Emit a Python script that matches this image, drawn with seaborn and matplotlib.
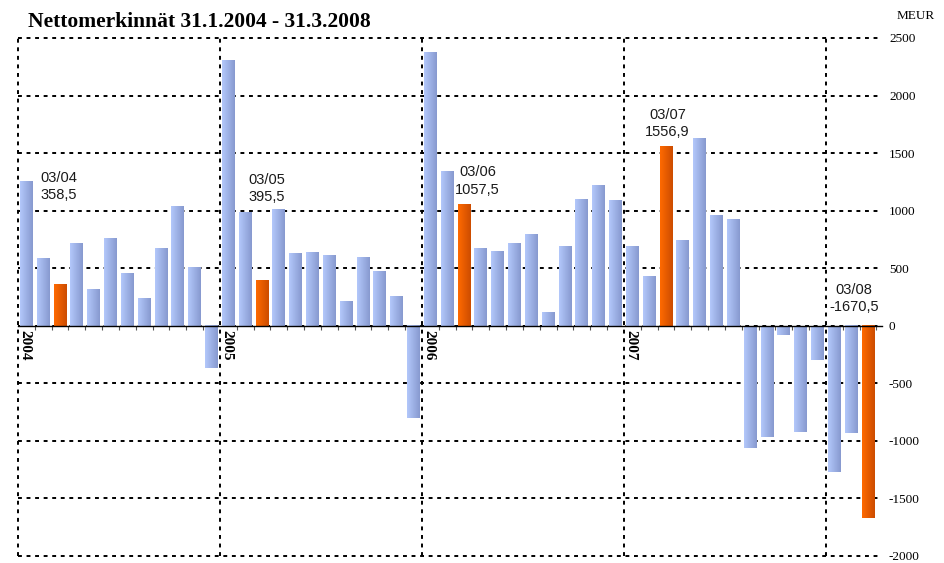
import numpy as np
import pandas as pd
import matplotlib
matplotlib.use("Agg")
import matplotlib.pyplot as plt
from matplotlib.colors import LinearSegmentedColormap
import seaborn as sns

# ---------------- data ----------------
title = "Nettomerkinnät 31.1.2004 - 31.3.2008"
unit_label = "MEUR"
months = list(pd.date_range("2004-01-01", "2008-03-01", freq="MS").strftime("%Y-%m"))
values = [1259, 590, 358.5, 720, 321, 764, 460, 243, 677, 1042, 512, -370,
          2309, 990, 395.5, 1016, 634, 642, 616, 217, 599, 477, 252, -800,
          2378, 1345, 1057.5, 677, 651, 720, 799, 113, 694, 1102, 1224, 1094,
          694, 434, 1556.9, 747, 1632, 964, 929, -1059, -964, -78, -920, -295,
          -1267, -930, -1670.5]
highlight_month = "03"
y_ticks = [2500, 2000, 1500, 1000, 500, 0, -500, -1000, -1500, -2000]
year_labels = ["2004", "2005", "2006", "2007", "2008"]

# annotation placement (offsets in category units / data units)
ann_pos = {"2004-03": (-0.08, 1207), "2005-03": (0.29, 1194), "2006-03": (0.80, 1259),
           "2007-03": (0.08, 1758), "2008-03": (-0.83, 239)}

df = pd.DataFrame({"month": months, "value": values})
df["kind"] = np.where(df["month"].str[5:] == highlight_month, "mar", "other")

plt.rcParams["axes.unicode_minus"] = False
fig = plt.figure(figsize=(9.44, 5.63), dpi=100)
ax = fig.add_axes([18 / 944, 1 - 556 / 563, (882 - 18) / 944, (556 - 38) / 563])

sns.barplot(data=df, x="month", y="value", hue="kind", order=months,
            palette={"mar": "#ee5f00", "other": "#a2b6ea"}, dodge=False,
            width=0.77, legend=False, ax=ax, saturation=1)

n = len(months)

# gradient fill for bars
blue_cmap = LinearSegmentedColormap.from_list("b", ["#b3c8fb", "#8799cf"])
orange_cmap = LinearSegmentedColormap.from_list("o", ["#ff6a00", "#cc4c00"])
grad = np.linspace(0, 1, 64).reshape(1, -1)
for p in list(ax.patches):
    x0, y0 = p.get_x(), p.get_y()
    w, h = p.get_width(), p.get_height()
    fc = p.get_facecolor()
    cmap = orange_cmap if fc[0] > 0.8 and fc[2] < 0.3 else blue_cmap
    ax.imshow(grad, extent=[x0, x0 + w, min(y0, y0 + h), max(y0, y0 + h)],
              aspect="auto", cmap=cmap, zorder=2, interpolation="bilinear")
    p.set_visible(False)
ax.set_xlim(-0.5, -0.5 + (882 - 18) / 16.833)
ax.set_ylim(min(y_ticks), max(y_ticks))

dash = (0, (2.0, 2.4))
lw = 1.4
# horizontal grid
ax.set_yticks(y_ticks)
ax.set_yticklabels([str(t) for t in y_ticks], family="Liberation Serif", fontsize=9.5)
ax.yaxis.tick_right()
ax.tick_params(axis="y", length=0, pad=5)
for t in y_ticks:
    ax.axhline(t, color="black", lw=lw, ls=dash, zorder=0.5, clip_on=False)

# year boundaries
year_bounds = [months.index(y + "-01") - 0.5 for y in year_labels]
for b in year_bounds:
    ax.axvline(b, color="black", lw=lw, ls=dash, zorder=0.5, clip_on=False)

# x axis at zero
for s in ["top", "left", "right"]:
    ax.spines[s].set_visible(False)
ax.spines["bottom"].set_position(("data", 0))
ax.spines["bottom"].set_color("black")
ax.spines["bottom"].set_linewidth(1.0)
ax.spines["bottom"].set_zorder(3)
ax.set_xticks(year_bounds)
ax.set_xticklabels(year_labels)
ax.set_xticks(np.arange(-0.5, n, 1.0), minor=True)
ax.tick_params(axis="x", which="minor", length=3, width=0.8, color="#555555", direction="out")
ax.tick_params(axis="x", which="major", length=0, pad=3)
for lab in ax.get_xticklabels():
    lab.set_rotation(270)
    lab.set_ha("left")
    lab.set_va("top")
    lab.set_family("Liberation Serif")
    lab.set_fontweight("bold")
    lab.set_fontsize(11)
    lab.set_zorder(5)
ax.set_xlabel("")
ax.set_ylabel("")

# annotations
for m, (dx, yy) in ann_pos.items():
    i = months.index(m)
    v = values[i]
    txt = f"{m[5:]}/{m[2:4]}\n" + f"{v:.1f}".replace(".", ",")
    ax.text(i + dx, yy, txt, ha="center", va="center", fontsize=10.5,
            family="Liberation Sans", color="#1a1a1a", linespacing=1.3, zorder=6)

fig.text(28 / 944, 1 - 27 / 563, title, family="Liberation Serif", fontweight="bold",
         fontsize=15.5, ha="left", va="baseline")
fig.text(897 / 944, 1 - 16 / 563, unit_label, family="Liberation Serif", fontsize=9.5,
         ha="left", va="center")

fig.savefig("out.png", dpi=100)
